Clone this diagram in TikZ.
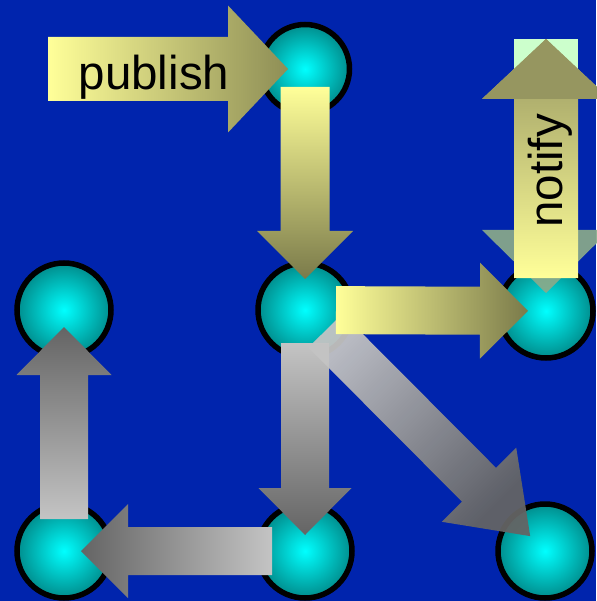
\documentclass[tikz,border=0pt]{standalone}
\usepackage{fontspec}
\setmainfont{Liberation Sans}
\usepackage{tikz}
\usetikzlibrary{calc}

\definecolor{bgblue}{RGB}{0,36,173}
\definecolor{ballin}{RGB}{0,255,255}
\definecolor{ballout}{RGB}{0,140,140}
\definecolor{paleyellow}{RGB}{255,255,153}
\definecolor{olivedark}{RGB}{122,122,74}
\definecolor{olivemid}{RGB}{150,150,96}
\definecolor{graydark}{RGB}{100,100,100}
\definecolor{graylight}{RGB}{196,196,196}
\definecolor{ghostgreen}{RGB}{138,170,138}
\definecolor{mintback}{RGB}{204,255,204}

% block arrow from tail #2 to tip #3: shaft half width #4, head half width #5, head length #6
\newcommand\blockarrow[6][]{%
  \path[#1] let \p1=(#2), \p2=(#3),
      \n1={atan2(\y2-\y1,\x2-\x1)}, \n2={veclen(\x2-\x1,\y2-\y1)} in
    [shift={(\p1)}, rotate=\n1]
    (0pt,-#4pt) -- (\n2-#6pt,-#4pt) -- (\n2-#6pt,-#5pt) -- (\n2,0pt)
    -- (\n2-#6pt,#5pt) -- (\n2-#6pt,#4pt) -- (0pt,#4pt) -- cycle;}

\begin{document}
\begin{tikzpicture}[
    x=1pt, y=-1pt,
    ball/.style={circle, draw=black, line width=5.5pt, minimum size=94pt, inner sep=0pt,
                 inner color=ballin, outer color=ballout},
    tag/.style={font=\fontsize{47.5}{50}\selectfont, text=black, inner sep=0pt},
    yellowright/.style={left color=paleyellow, right color=olivedark},
    yellowdown/.style={top color=paleyellow, bottom color=olivedark},
    grayup/.style={top color=graydark, bottom color=graylight},
    graydown/.style={top color=graylight, bottom color=graydark},
    grayleft/.style={left color=graydark, right color=graylight},
    graydiag/.style={top color=graylight, bottom color=graydark, shading angle=45, fill opacity=0.94},
    notifyshaft/.style={top color=olivemid, bottom color=paleyellow},
    notifyhead/.style={fill=olivemid},
    ghost/.style={fill=ghostgreen, fill opacity=0.92}
]

\useasboundingbox (0,0) rectangle (596,601);
\fill[bgblue] (0,0) rectangle (596,601);

% nodes
\node[ball, minimum size=89pt] (c1) at (305,69) {};
\node[ball] (c2) at (64,310) {};
\node[ball] (c3) at (305,310) {};
\node[ball] (c4) at (546,311) {};
\node[ball] (c5) at (64,551) {};
\node[ball] (c6) at (305,551) {};
\node[ball] (c7) at (545,551) {};

\coordinate (pub) at (48,69);
\coordinate (ntop) at (546,39);

% publish
\blockarrow[left color=paleyellow, right color=olivedark!85!paleyellow]{pub}{$(c1)!17pt!(pub)$}{32}{63.5}{60}
\node[tag, anchor=base] (publishtxt) at (154,90) {publish};

% arrows between the balls
\blockarrow[yellowdown]{$(c1)!18pt!(c3)$}{$(c3)!31pt!(c1)$}{24.5}{48}{48}
\blockarrow[grayup]{$(c5)!32pt!(c2)$}{$(c2)!17pt!(c5)$}{24}{47.5}{48}
\blockarrow[graydown]{$(c3)!33pt!(c6)$}{$(c6)!16pt!(c3)$}{24}{46.5}{47}
\blockarrow[graydiag]{$(c3)!29pt!(c7)$}{$(c7)!21pt!(c3)$}{24}{52.5}{72.5}
\blockarrow[yellowright]{$(c3)!31pt!(c4)$}{$(c4)!18pt!(c3)$}{24}{48}{48}
\blockarrow[grayleft]{$(c6)!33pt!(c5)$}{$(c5)!17pt!(c6)$}{24}{47}{47}

% notify
\fill[mintback] ($(ntop)+(-32,0)$) rectangle ($(ntop)+(32,60)$);
\blockarrow[ghost]{$(c4)!81pt!(ntop)$}{$(c4)!18pt!(ntop)$}{0}{64}{63}
\blockarrow[notifyshaft]{$(c4)!33pt!(ntop)$}{ntop}{32}{64}{60}
\blockarrow[notifyhead]{$(ntop)!60pt!(c4)$}{ntop}{0}{64}{60}
\node[tag, rotate=90, anchor=base] (notifytxt) at (562,171) {notify};

\end{tikzpicture}
\end{document}
